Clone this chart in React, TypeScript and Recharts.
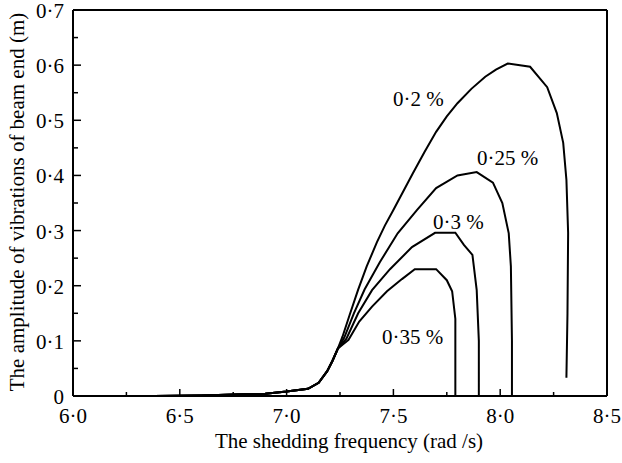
import React from "react";
import { LineChart, Line, XAxis, YAxis, ReferenceDot, ReferenceLine } from "recharts";

// Shared low-amplitude rise (x: rad/s, y: m)
const commonRise: [number, number][] = [
  [6.38, 0.0], [6.6, 0.001], [6.8, 0.003], [6.9, 0.004], [7.0, 0.008],
  [7.1, 0.013], [7.15, 0.024], [7.19, 0.045], [7.215, 0.064], [7.24, 0.086],
];

const damping02: [number, number][] = [
  [7.262, 0.108], [7.295, 0.147], [7.335, 0.193], [7.375, 0.235], [7.423, 0.279],
  [7.46, 0.309], [7.498, 0.336], [7.59, 0.403], [7.645, 0.442], [7.7, 0.479],
  [7.75, 0.507], [7.8, 0.531], [7.865, 0.557], [7.93, 0.579], [7.98, 0.592],
  [8.035, 0.603], [8.14, 0.597], [8.22, 0.56], [8.265, 0.513], [8.295, 0.459],
  [8.31, 0.392], [8.318, 0.296], [8.315, 0.15], [8.31, 0.033],
];

const damping025: [number, number][] = [
  [7.27, 0.106], [7.315, 0.15], [7.365, 0.193], [7.437, 0.243], [7.52, 0.295],
  [7.61, 0.337], [7.7, 0.377], [7.8, 0.4], [7.89, 0.406], [7.966, 0.387],
  [8.01, 0.35], [8.04, 0.295], [8.05, 0.235], [8.055, 0.1], [8.055, 0.0],
];

const damping03: [number, number][] = [
  [7.28, 0.104], [7.335, 0.15], [7.4, 0.192], [7.484, 0.23], [7.587, 0.27],
  [7.695, 0.296], [7.79, 0.296], [7.83, 0.274], [7.87, 0.256], [7.89, 0.192],
  [7.9, 0.1], [7.9, 0.0],
];

const damping035: [number, number][] = [
  [7.29, 0.102], [7.34, 0.135], [7.4, 0.162], [7.47, 0.19], [7.54, 0.212],
  [7.6, 0.23], [7.7, 0.23], [7.75, 0.21], [7.775, 0.19], [7.79, 0.14], [7.79, 0.0],
];

const curveLabels: { x: number; y: number; text: string }[] = [
  { x: 7.498, y: 0.539, text: "0·2 %" },
  { x: 7.891, y: 0.432, text: "0·25 %" },
  { x: 7.685, y: 0.316, text: "0·3 %" },
  { x: 7.447, y: 0.107, text: "0·35 %" },
];

const xTicks = [600, 625, 650, 675, 700, 725, 750, 775, 800, 825, 850].map((v) => v / 100);
const yTicks = [0, 5, 10, 15, 20, 25, 30, 35, 40, 45, 50, 55, 60, 65, 70].map((v) => v / 100);

const xTitle = "The shedding frequency (rad /s)";
const yTitle = "The amplitude of vibrations of beam end (m)";

const FONT = "'Liberation Serif', 'Times New Roman', serif";

const toRows = (pts: [number, number][]) => pts.map(([x, y]) => ({ x, y }));
const seriesList = [damping02, damping025, damping03, damping035].map((s) =>
  toRows([...commonRise, ...s])
);

const XTick = (props: any) => {
  const { x, y, payload } = props;
  const v: number = payload.value;
  const major = Math.abs(v * 2 - Math.round(v * 2)) < 1e-6;
  return (
    <g>
      <line x1={x} x2={x} y1={y} y2={y - (major ? 7 : 4)} stroke="#000" strokeWidth={1.5} />
      {major && (
        <text x={x} y={y + 27} textAnchor="middle" fontFamily={FONT} fontSize={21} fill="#000">
          {v.toFixed(1).replace(".", "·")}
        </text>
      )}
    </g>
  );
};

const YTick = (props: any) => {
  const { x, y, payload } = props;
  const v: number = payload.value;
  const major = Math.round(v * 100) % 10 === 0;
  return (
    <g>
      <line x1={x} x2={x + (major ? 8 : 5)} y1={y} y2={y} stroke="#000" strokeWidth={1.5} />
      {major && (
        <text x={x - 9} y={y + 8} textAnchor="end" fontFamily={FONT} fontSize={21} fill="#000">
          {v === 0 ? "0" : v.toFixed(1).replace(".", "·")}
        </text>
      )}
    </g>
  );
};

export default function App() {
  return (
    <div style={{ position: "absolute", left: 0, top: 0, width: 622, height: 463, background: "#fff" }}>
      <LineChart width={622} height={463} margin={{ top: 10, right: 15, bottom: 0, left: 0 }}>
        <XAxis
          xAxisId="b"
          type="number"
          dataKey="x"
          domain={[6, 8.5]}
          ticks={xTicks}
          interval={0}
          tickSize={0}
          tickMargin={0}
          tick={<XTick />}
          height={67}
          axisLine={{ stroke: "#000", strokeWidth: 2 }}
          tickLine={false}
          allowDataOverflow
          label={{
            content: (p: any) => (
              <text
                x={p.viewBox.x + p.viewBox.width / 2 + 9}
                y={p.viewBox.y + 52}
                textAnchor="middle"
                fontFamily={FONT}
                fontSize={21}
                fill="#000"
              >
                {xTitle}
              </text>
            ),
          }}
        />
        <YAxis
          yAxisId="l"
          type="number"
          domain={[0, 0.7]}
          ticks={yTicks}
          interval={0}
          tickSize={0}
          tickMargin={0}
          tick={<YTick />}
          width={73}
          axisLine={{ stroke: "#000", strokeWidth: 2 }}
          tickLine={false}
          allowDataOverflow
          label={{
            content: (p: any) => {
              const cx = 17;
              const cy = p.viewBox.y + p.viewBox.height / 2 - 1;
              return (
                <text
                  x={cx}
                  y={cy}
                  transform={`rotate(-90, ${cx}, ${cy})`}
                  textAnchor="middle"
                  dominantBaseline="central"
                  fontFamily={FONT}
                  fontSize={21}
                  fill="#000"
                >
                  {yTitle}
                </text>
              );
            },
          }}
        />
        <ReferenceLine xAxisId="b" yAxisId="l" y={0.7} stroke="#000" strokeWidth={2} ifOverflow="visible" />
        <ReferenceLine xAxisId="b" yAxisId="l" x={8.5} stroke="#000" strokeWidth={2} ifOverflow="visible" />
        {seriesList.map((d, i) => (
          <Line
            key={i}
            data={d}
            xAxisId="b"
            yAxisId="l"
            dataKey="y"
            type="linear"
            dot={false}
            stroke="#000"
            strokeWidth={2}
            isAnimationActive={false}
          />
        ))}
        {curveLabels.map((l, i) => (
          <ReferenceDot
            key={"lab" + i}
            xAxisId="b"
            yAxisId="l"
            x={l.x}
            y={l.y}
            r={0}
            shape={(p: any) => (
              <text
                x={p.cx}
                y={p.cy}
                textAnchor="start"
                dominantBaseline="central"
                fontFamily={FONT}
                fontSize={21}
                fill="#000"
              >
                {l.text}
              </text>
            )}
          />
        ))}
      </LineChart>
    </div>
  );
}
